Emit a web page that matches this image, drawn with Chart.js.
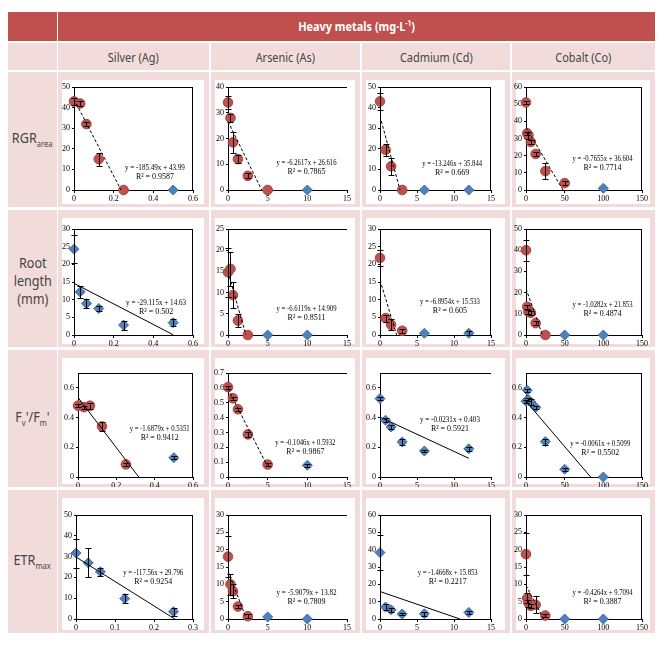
<!DOCTYPE html>
<html>
<head>
<meta charset="utf-8">
<script src="https://cdn.jsdelivr.net/npm/chart.js@4.4.0/dist/chart.umd.min.js"></script>
<style>
  body { margin: 0; background: #fff; width: 666px; height: 657px; position: relative; overflow: hidden;
         font-family: "Noto Sans", "Open Sans", sans-serif; }
  .cell { position: absolute; background: #f2dcdb; }
  .red { background: #c0504d; }
  .box { position: absolute; background: #fff; }
  .plot { position: absolute; }
  .plot canvas { display: block; }
  .hd { color: #fff; font-weight: bold; font-size: 13px; display: flex; align-items: center; justify-content: center; }
  .sub { color: #444; font-size: 13px; display: flex; align-items: center; justify-content: center; }
  .lab { color: #444; font-size: 15px; display: flex; align-items: center; justify-content: center; text-align: center; line-height: 18px; }
  .lab sub { font-size: 9px; }
  .nar { display: inline-block; transform: scaleX(0.84); white-space: nowrap; }
</style>
</head>
<body>
<div id="page"></div>
<script>
// concentrations (mg/L) tested for each metal
var agConc = [0, 0.03125, 0.0625, 0.125, 0.25, 0.5]
var asConc = [0, 0.3125, 0.625, 1.25, 2.5, 5, 10]
var cdConc = [0, 0.75, 1.5, 3, 6, 12]
var coConc = [0, 1.5625, 3.125, 6.25, 12.5, 25, 50, 100]

var metals = ['Silver (Ag)', 'Arsenic (As)', 'Cadmium (Cd)', 'Cobalt (Co)']

// x axis ticks
var agTicks = [0, 0.2, 0.4, 0.6]
var agTicksEtr = [0, 0.1, 0.2, 0.3]
var asTicks = [0, 5, 10, 15]
var cdTicks = [0, 5, 10, 15]
var coTicks = [0, 50, 100, 150]

// RGR area
var rgrAg = [43, 42, 32, 15, 0, 0]
var rgrAgErr = [1.5, 1, 1, 3.2, 0, 0]
var rgrAgFitX = [0, 0.237], rgrAgFitY = [43.99, 0]
var rgrAgEq = ['y = -185.49x + 43.99', 'R² = 0.9587']

var rgrAs = [34, 28, 18.5, 12, 5.5, 0, 0]
var rgrAsErr = [2.5, 1.5, 4, 1.5, 1, 0, 0]
var rgrAsFitX = [0, 4.25], rgrAsFitY = [26.616, 0]
var rgrAsEq = ['y = -6.2617x + 26.616', 'R² = 0.7865']

var rgrCd = [43, 19.5, 11.5, 0, 0, 0]
var rgrCdErr = [4, 3, 4, 0, 0, 0]
var rgrCdFitX = [0, 2.706], rgrCdFitY = [35.844, 0]
var rgrCdEq = ['y = -13.246x + 35.844', 'R² = 0.669']

var rgrCo = [51, 33, 32, 28, 21, 11, 4, 1]
var rgrCoErr = [1, 1, 2, 1, 1, 4.5, 1, 0]
var rgrCoFitX = [0, 47.8], rgrCoFitY = [36.604, 0]
var rgrCoEq = ['y = -0.7655x + 36.604', 'R² = 0.7714']

// root length
var rootAg = [24.3, 12.2, 8.9, 7.5, 2.8, 3.5]
var rootAgErr = [4, 1.7, 1.2, 0.8, 1.3, 1]
var rootAgFitX = [0, 0.5], rootAgFitY = [14.63, 0.07]
var rootAgEq = ['y = -29.115x + 14.63', 'R² = 0.502']

var rootAs = [14.8, 15.6, 9.4, 3.4, 0, 0, 0]
var rootAsErr = [5.8, 4, 3, 1.6, 0, 0, 0]
var rootAsFitX = [0, 2.255], rootAsFitY = [14.909, 0]
var rootAsEq = ['y = -6.6119x + 14.909', 'R² = 0.8511']

var rootCd = [21.8, 4.8, 2.9, 1.2, 0.5, 0.5]
var rootCdErr = [2.2, 1, 1.5, 0.5, 0, 0.6]
var rootCdFitX = [0, 2.253], rootCdFitY = [15.533, 0]
var rootCdEq = ['y = -6.8954x + 15.533', 'R² = 0.605']

var rootCo = [40, 13.3, 11, 10.5, 5.6, 0, 0, 0]
var rootCoErr = [5, 1, 1, 1, 1, 0, 0, 0]
var rootCoFitX = [0, 21.25], rootCoFitY = [21.853, 0]
var rootCoEq = ['y = -1.0282x + 21.853', 'R² = 0.4874']

// Fv'/Fm'
var fvAg = [0.48, 0.47, 0.48, 0.34, 0.085, 0.13]
var fvAgErr = [0.01, 0.01, 0.02, 0.03, 0.01, 0.01]
var fvAgFitX = [0, 0.317], fvAgFitY = [0.5351, 0]
var fvAgEq = ['y = -1.6879x + 0.5351', 'R² = 0.9412']

var fvAs = [0.605, null, 0.53, 0.456, 0.287, 0.084, 0.079]
var fvAsErr = [0.01, 0, 0.01, 0.01, 0.015, 0.01, 0.01]
var fvAsFitX = [0, 5], fvAsFitY = [0.5932, 0.0702]
var fvAsEq = ['y = -0.1046x + 0.5932', 'R² = 0.9867']

var fvCd = [0.528, 0.382, 0.337, 0.236, 0.175, 0.19]
var fvCdErr = [0.01, 0.015, 0.015, 0.02, 0.01, 0.015]
var fvCdFitX = [0, 12], fvCdFitY = [0.403, 0.126]
var fvCdEq = ['y = -0.0231x + 0.403', 'R² = 0.5921']

var fvCo = [0.51, 0.584, 0.52, 0.505, 0.469, 0.238, 0.052, 0]
var fvCoErr = [0.01, 0.01, 0.01, 0.02, 0.01, 0.02, 0.01, 0]
var fvCoFitX = [0, 83.6], fvCoFitY = [0.5099, 0]
var fvCoEq = ['y = -0.0061x + 0.5099', 'R² = 0.5502']

// ETR max
var etrAg = [31.7, 27, 22.7, 9.8, 3.5, null]
var etrAgErr = [7, 7, 2, 2, 2, 0]
var etrAgFitX = [0, 0.2535], etrAgFitY = [29.796, 0]
var etrAgEq = ['y = -117.56x + 29.796', 'R² = 0.9254']

var etrAs = [18, 10, 8, 3.6, 0.8, 0.6, 0]
var etrAsErr = [6, 3, 2, 0.5, 0.5, 0, 0]
var etrAsFitX = [0, 2.339], etrAsFitY = [13.82, 0]
var etrAsEq = ['y = -5.9079x + 13.82', 'R² = 0.7809']

var etrCd = [38.3, 6.9, 5.3, 2.9, 3, 3.8]
var etrCdErr = [10, 1.5, 1, 0.5, 1, 0.8]
var etrCdFitX = [0, 10.81], etrCdFitY = [15.853, 0]
var etrCdEq = ['y = -1.4668x + 15.853', 'R² = 0.2217']

var etrCo = [18.7, 6, 4.6, 3.8, 4.1, 1, 0, 0]
var etrCoErr = [6, 1.5, 1, 0.5, 2.5, 0.5, 0, 0]
var etrCoFitX = [0, 22.77], etrCoFitY = [9.7094, 0]
var etrCoEq = ['y = -0.4264x + 9.7094', 'R² = 0.3887']

// page layout
var colL = [58, 211, 362, 512], colR = [209, 360, 510, 655]
var rowT = [72, 210, 350, 490], rowB = [207, 347, 487, 633]
var plotL = [74, 228, 380, 526], plotR = [193, 347, 491, 642]
var plotT = [87, 229, 373, 515], plotB = [190, 335, 477, 619]

var panels = [
  // row 1 : RGR area
  {row: 0, col: 0, x: agConc, y: rgrAg, err: rgrAgErr, nRed: 5, fitX: rgrAgFitX, fitY: rgrAgFitY, eq: rgrAgEq, xTicks: agTicks, yTicks: [0, 10, 20, 30, 40, 50], yMax: 50, dash: true, box: true, eqPos: [0.68, 0.79]},
  {row: 0, col: 1, x: asConc, y: rgrAs, err: rgrAsErr, nRed: 6, fitX: rgrAsFitX, fitY: rgrAsFitY, eq: rgrAsEq, xTicks: asTicks, yTicks: [0, 10, 20, 30, 40], yMax: 40, dash: true, box: false, eqPos: [0.66, 0.74]},
  {row: 0, col: 2, x: cdConc, y: rgrCd, err: rgrCdErr, nRed: 4, fitX: rgrCdFitX, fitY: rgrCdFitY, eq: rgrCdEq, xTicks: cdTicks, yTicks: [0, 10, 20, 30, 40, 50], yMax: 50, dash: true, box: true, eqPos: [0.65, 0.75]},
  {row: 0, col: 3, x: coConc, y: rgrCo, err: rgrCoErr, nRed: 7, fitX: rgrCoFitX, fitY: rgrCoFitY, eq: rgrCoEq, xTicks: coTicks, yTicks: [0, 10, 20, 30, 40, 50, 60], yMax: 60, dash: true, box: true, eqPos: [0.66, 0.70]},
  // row 2 : root length
  {row: 1, col: 0, x: agConc, y: rootAg, err: rootAgErr, nRed: 0, fitX: rootAgFitX, fitY: rootAgFitY, eq: rootAgEq, xTicks: agTicks, yTicks: [0, 5, 10, 15, 20, 25, 30], yMax: 30, dash: false, box: true, eqPos: [0.69, 0.70]},
  {row: 1, col: 1, x: asConc, y: rootAs, err: rootAsErr, nRed: 5, fitX: rootAsFitX, fitY: rootAsFitY, eq: rootAsEq, xTicks: asTicks, yTicks: [0, 5, 10, 15, 20, 25], yMax: 25, dash: true, box: false, eqPos: [0.66, 0.75]},
  {row: 1, col: 2, x: cdConc, y: rootCd, err: rootCdErr, nRed: 4, fitX: rootCdFitX, fitY: rootCdFitY, eq: rootCdEq, xTicks: cdTicks, yTicks: [0, 5, 10, 15, 20, 25, 30], yMax: 30, dash: true, box: true, eqPos: [0.63, 0.69]},
  {row: 1, col: 3, x: coConc, y: rootCo, err: rootCoErr, nRed: 6, fitX: rootCoFitX, fitY: rootCoFitY, eq: rootCoEq, xTicks: coTicks, yTicks: [0, 10, 20, 30, 40, 50], yMax: 50, dash: true, box: true, eqPos: [0.66, 0.72]},
  // row 3 : Fv'/Fm'
  {row: 2, col: 0, x: agConc, y: fvAg, err: fvAgErr, nRed: 5, fitX: fvAgFitX, fitY: fvAgFitY, eq: fvAgEq, xTicks: agTicks, yTicks: [0, 0.2, 0.4, 0.6], yMax: 0.7, dash: false, box: true, eqPos: [0.71, 0.54], shift: 4},
  {row: 2, col: 1, x: asConc, y: fvAs, err: fvAsErr, nRed: 6, fitX: fvAsFitX, fitY: fvAsFitY, eq: fvAsEq, xTicks: asTicks, yTicks: [0, 0.1, 0.2, 0.3, 0.4, 0.5, 0.6, 0.7], yMax: 0.7, dash: true, box: false, eqPos: [0.65, 0.67]},
  {row: 2, col: 2, x: cdConc, y: fvCd, err: fvCdErr, nRed: 0, fitX: fvCdFitX, fitY: fvCdFitY, eq: fvCdEq, xTicks: cdTicks, yTicks: [0, 0.2, 0.4, 0.6], yMax: 0.7, dash: false, box: false, eqPos: [0.63, 0.45]},
  {row: 2, col: 3, x: coConc, y: fvCo, err: fvCoErr, nRed: 0, fitX: fvCoFitX, fitY: fvCoFitY, eq: fvCoEq, xTicks: coTicks, yTicks: [0, 0.2, 0.4, 0.6], yMax: 0.7, dash: false, box: true, eqPos: [0.64, 0.68]},
  // row 4 : ETR max
  {row: 3, col: 0, x: agConc, y: etrAg, err: etrAgErr, nRed: 0, fitX: etrAgFitX, fitY: etrAgFitY, eq: etrAgEq, xTicks: agTicksEtr, yTicks: [0, 10, 20, 30, 40, 50], yMax: 50, dash: false, box: true, eqPos: [0.66, 0.56], shift: 2},
  {row: 3, col: 1, x: asConc, y: etrAs, err: etrAsErr, nRed: 5, fitX: etrAsFitX, fitY: etrAsFitY, eq: etrAsEq, xTicks: asTicks, yTicks: [0, 5, 10, 15, 20, 25, 30], yMax: 30, dash: true, box: false, eqPos: [0.66, 0.75]},
  {row: 3, col: 2, x: cdConc, y: etrCd, err: etrCdErr, nRed: 0, fitX: etrCdFitX, fitY: etrCdFitY, eq: etrCdEq, xTicks: cdTicks, yTicks: [0, 10, 20, 30, 40, 50, 60], yMax: 60, dash: false, box: true, eqPos: [0.61, 0.56]},
  {row: 3, col: 3, x: coConc, y: etrCo, err: etrCoErr, nRed: 6, fitX: etrCoFitX, fitY: etrCoFitY, eq: etrCoEq, xTicks: coTicks, yTicks: [0, 5, 10, 15, 20, 25, 30], yMax: 30, dash: true, box: true, eqPos: [0.66, 0.75]}
]

var rowLabels = [
  'RGR<sub>area</sub>',
  'Root<br>length<br>(mm)',
  'F<sub>v</sub>\'/F<sub>m</sub>\'',
  'ETR<sub>max</sub>'
]

var page = document.getElementById('page')

function addDiv(cls, x, y, w, h, html) {
  var d = document.createElement('div')
  d.className = cls
  d.style.left = x + 'px'
  d.style.top = y + 'px'
  d.style.width = w + 'px'
  d.style.height = h + 'px'
  if (html) d.innerHTML = html
  page.appendChild(d)
  return d
}

// header rows
addDiv('cell red', 8, 12, 49, 29)
addDiv('cell red hd', 58, 12, 597, 29, '<span class="nar">Heavy metals (mg·L<sup style="font-size:8px">-1</sup>)</span>')
addDiv('cell', 8, 43, 49, 27)
for (var c = 0; c < 4; c++) {
  addDiv('cell sub', colL[c], 43, colR[c] - colL[c], 27, '<span class="nar">' + metals[c] + '</span>')
}
for (var r = 0; r < 4; r++) {
  var lab = addDiv('cell lab', 8, rowT[r], 49, rowB[r] - rowT[r], '<span class="nar">' + rowLabels[r] + '</span>')
  lab.style.paddingTop = '2px'
  lab.style.boxSizing = 'border-box'
  for (var c = 0; c < 4; c++) {
    addDiv('cell', colL[c], rowT[r], colR[c] - colL[c], rowB[r] - rowT[r])
    addDiv('box', colL[c] + 4, rowT[r] + 8, colR[c] - colL[c] - 9, rowB[r] - rowT[r] - 11)
  }
}

// error bars, top/right frame and equation text
var extras = {
  id: 'extras',
  afterDatasetsDraw(chart) {
    var p = chart.options.plugins.extras
    var a = chart.chartArea, ctx = chart.ctx
    var xs = chart.scales.x, ys = chart.scales.y
    ctx.save()
    ctx.strokeStyle = '#000'
    ctx.lineWidth = 1
    ctx.beginPath()
    ctx.moveTo(a.left, a.top + 0.5)
    ctx.lineTo(a.right, a.top + 0.5)
    if (p.box) {
      ctx.moveTo(a.right - 0.5, a.top)
      ctx.lineTo(a.right - 0.5, a.bottom)
    }
    ctx.stroke()

    ctx.beginPath()
    p.x.forEach(function (xv, i) {
      var v = p.y[i], e = p.err[i]
      if (v == null || !e) return
      var px = Math.round(xs.getPixelForValue(xv)) + 0.5
      var t = Math.round(ys.getPixelForValue(v + e)) + 0.5
      var b = Math.round(ys.getPixelForValue(Math.max(v - e, 0))) + 0.5
      ctx.moveTo(px, t); ctx.lineTo(px, b)
      ctx.moveTo(px - 3, t); ctx.lineTo(px + 3, t)
      ctx.moveTo(px - 3, b); ctx.lineTo(px + 3, b)
    })
    ctx.stroke()

    ctx.fillStyle = '#000'
    ctx.font = '8px "Liberation Serif", "DejaVu Serif", serif'
    ctx.textAlign = 'center'
    ctx.textBaseline = 'middle'
    var cx = a.left + p.eqPos[0] * (a.right - a.left)
    var cy = a.top + p.eqPos[1] * (a.bottom - a.top)
    ctx.fillText(p.eq[0], cx, cy, 60)
    ctx.fillText(p.eq[1], cx, cy + 9, 38)
    ctx.restore()
  }
}

function pts(xs, ys, from, to) {
  var out = []
  for (var i = from; i < to; i++) {
    if (ys[i] != null) out.push({x: xs[i], y: ys[i]})
  }
  return out
}

panels.forEach(function (p) {
  var cx0 = colL[p.col], cy0 = rowT[p.row]
  var cw = colR[p.col] - cx0, ch = rowB[p.row] - cy0
  var holder = addDiv('plot', cx0, cy0, cw, ch)
  var cv = document.createElement('canvas')
  cv.width = cw
  cv.height = ch
  holder.appendChild(cv)

  var tickFont = {family: '"Liberation Serif", "DejaVu Serif", serif', size: 8}
  var yw = plotL[p.col] + (p.shift || 0) - cx0
  var xh = cy0 + ch - plotB[p.row]

  new Chart(cv, {
    type: 'scatter',
    data: {
      datasets: [
        {
          data: p.fitX.map(function (v, i) { return {x: v, y: p.fitY[i]} }),
          showLine: true, pointRadius: 0, borderColor: '#000', borderWidth: 1,
          borderDash: p.dash ? [3, 2] : []
        },
        {
          data: pts(p.x, p.y, 0, p.nRed),
          pointStyle: 'circle', pointRadius: 4.8, backgroundColor: '#c0504d', borderColor: '#a94441', borderWidth: 1, clip: false
        },
        {
          data: pts(p.x, p.y, p.nRed, p.x.length),
          pointStyle: 'rectRot', pointRadius: 5, backgroundColor: '#4f81bd', borderColor: '#3e6ea6', borderWidth: 1, clip: false
        }
      ]
    },
    options: {
      responsive: false,
      animation: false,
      events: [],
      layout: {padding: {left: 0, right: cx0 + cw - plotR[p.col], top: plotT[p.row] - cy0, bottom: 0}},
      plugins: {
        legend: {display: false},
        tooltip: {enabled: false},
        extras: {x: p.x, y: p.y, err: p.err, eq: p.eq, eqPos: p.eqPos, box: p.box}
      },
      scales: {
        x: {
          type: 'linear', min: p.xTicks[0], max: p.xTicks[p.xTicks.length - 1],
          afterBuildTicks: function (s) { s.ticks = p.xTicks.map(function (v) { return {value: v} }) },
          afterFit: function (s) { s.height = xh },
          grid: {display: true, drawOnChartArea: false, tickLength: 3, color: '#000'},
          border: {display: true, color: '#000', width: 1},
          ticks: {font: tickFont, color: '#000', padding: 1, maxRotation: 0}
        },
        y: {
          type: 'linear', min: 0, max: p.yMax,
          afterBuildTicks: function (s) { s.ticks = p.yTicks.map(function (v) { return {value: v} }) },
          afterFit: function (s) { s.width = yw },
          grid: {display: true, drawOnChartArea: false, tickLength: 2, color: '#000'},
          border: {display: true, color: '#000', width: 1},
          ticks: {font: tickFont, color: '#000', padding: 2}
        }
      }
    },
    plugins: [extras]
  })
})
</script>
</body>
</html>
